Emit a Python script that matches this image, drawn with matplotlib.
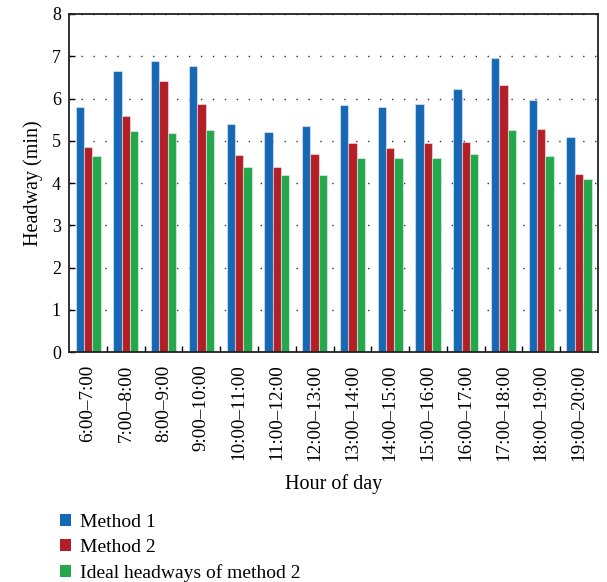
import numpy as np
import matplotlib
matplotlib.use("Agg")
import matplotlib.pyplot as plt
from matplotlib.patches import Patch
from matplotlib.ticker import FixedLocator

plt.rcParams['font.family'] = ['Liberation Serif', 'DejaVu Serif']

hours = ["6:00\u20137:00", "7:00\u20138:00", "8:00\u20139:00", "9:00\u201310:00",
         "10:00\u201311:00", "11:00\u201312:00", "12:00\u201313:00", "13:00\u201314:00",
         "14:00\u201315:00", "15:00\u201316:00", "16:00\u201317:00", "17:00\u201318:00",
         "18:00\u201319:00", "19:00\u201320:00"]
method1 = [5.79, 6.65, 6.89, 6.76, 5.40, 5.20, 5.36, 5.84, 5.79, 5.87, 6.22, 6.96, 5.97, 5.08]
method2 = [4.86, 5.59, 6.41, 5.86, 4.66, 4.39, 4.68, 4.95, 4.84, 4.95, 4.96, 6.33, 5.28, 4.21]
ideal2 = [4.64, 5.24, 5.19, 5.25, 4.39, 4.19, 4.19, 4.59, 4.59, 4.59, 4.69, 5.25, 4.64, 4.09]

series = [("Method 1", method1, "#1668b5"),
          ("Method 2", method2, "#b31f27"),
          ("Ideal headways of method 2", ideal2, "#24a84c")]

fig = plt.figure(figsize=(6.07, 5.82), dpi=100)
ax = fig.add_axes([0.114, 0.395, 0.871, 0.581])

x = np.arange(len(hours))
w = 0.222
for i, (name, vals, col) in enumerate(series):
    ax.bar(x + (i - 1) * w, vals, width=w, color=col,
           edgecolor=(1, 1, 1, 0.45), linewidth=0.8, zorder=2)

ax.set_xlim(-0.5, len(hours) - 0.5)
ax.set_ylim(0, 8)
ax.set_yticks(range(0, 9))
# sparse dotted gridlines, ~12 px apart
ax.yaxis.grid(True, color='#333333', linestyle=(0, (1, 7.6)), linewidth=1.0, zorder=1)
ax.set_xticks(x)
ax.set_xticklabels(hours, rotation=90, fontsize=13.8)
ax.xaxis.set_minor_locator(FixedLocator(np.arange(0.5, len(hours) - 0.5, 1)))
ax.tick_params(axis='x', which='major', length=0, pad=9)
ax.tick_params(axis='x', which='minor', direction='in', length=4, width=1)
ax.tick_params(axis='y', direction='in', length=4, width=1, labelsize=13, pad=6)
for s in ax.spines.values():
    s.set_linewidth(1.3)
    s.set_color('#222222')

ax.set_xlabel("Hour of day", fontsize=14.5, labelpad=9)
ax.set_ylabel("Headway (min)", fontsize=14.5, labelpad=6)

handles = [Patch(facecolor=c, edgecolor='none', label=n) for n, _, c in series]
fig.legend(handles=handles, loc='upper left', bbox_to_anchor=(0.086, 0.13),
           frameon=False, fontsize=14, handlelength=0.55, handleheight=0.55,
           handletextpad=0.5, labelspacing=0.4, borderaxespad=0)

fig.savefig("out.png", dpi=100)
